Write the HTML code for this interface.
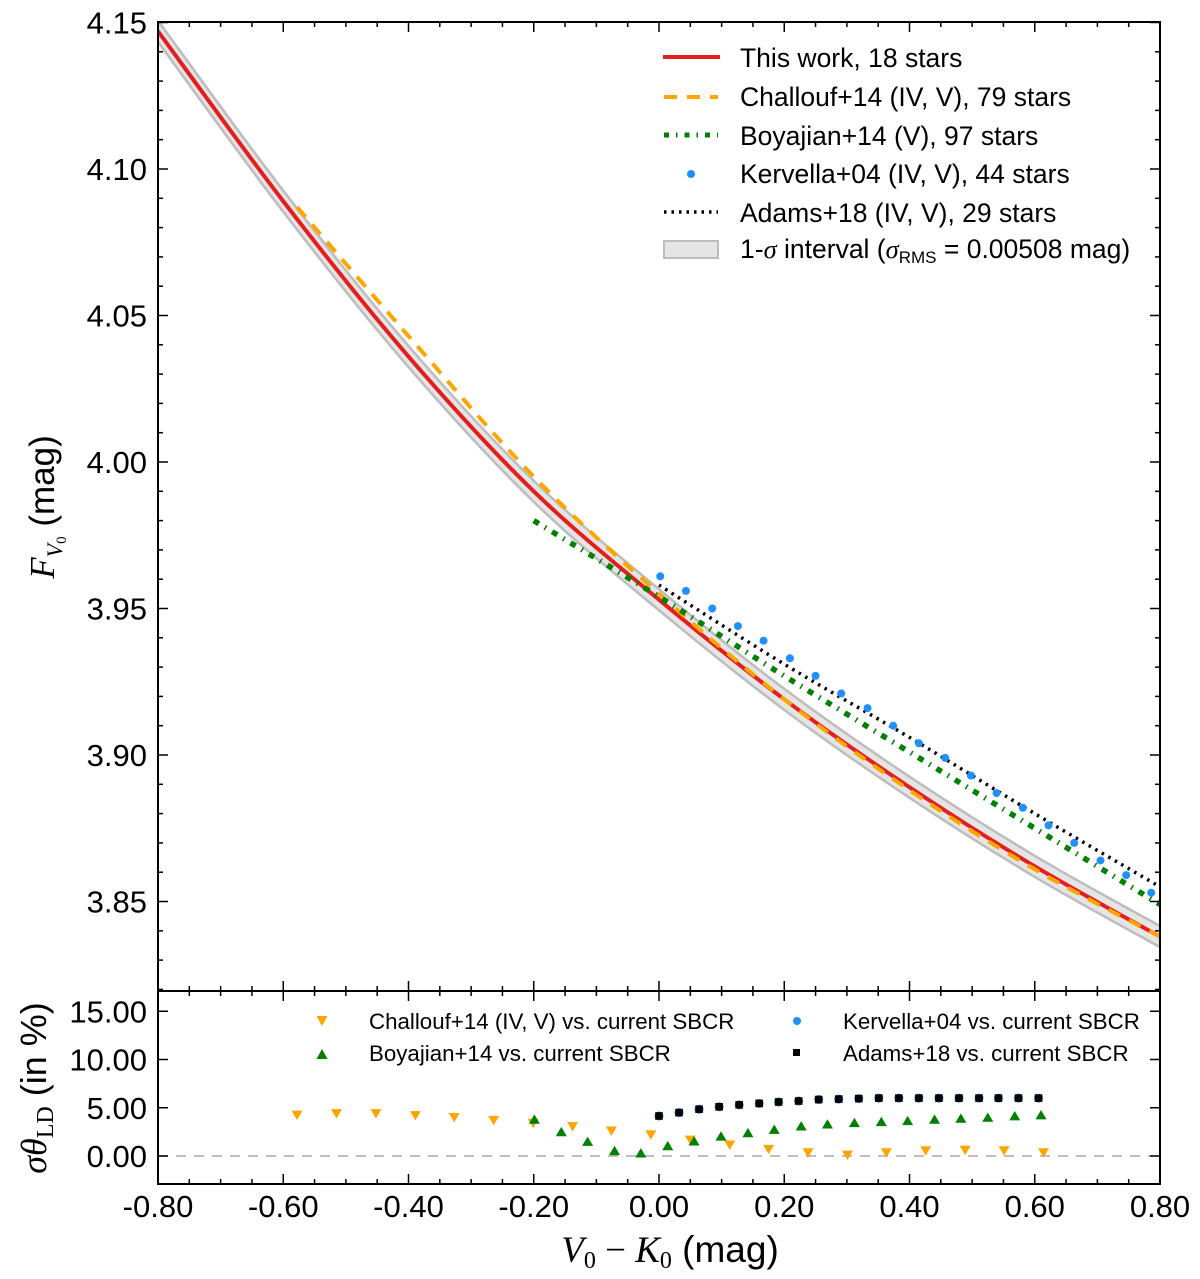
<!DOCTYPE html>
<html><head><meta charset="utf-8"><style>
html,body{margin:0;padding:0;background:#fff;}
svg{display:block;font-family:"Liberation Sans",sans-serif;}
</style></head><body>
<svg id="chart" width="1200" height="1279" viewBox="0 0 1200 1279" xmlns="http://www.w3.org/2000/svg"></svg>
<script>
// ---------- data ----------
const curveX = [-0.8,-0.6,-0.4,-0.2,0,0.2,0.4,0.6,0.8];
const thisWork = [4.147,4.089,4.036,3.990,3.953,3.919,3.889,3.862,3.838];
const bandHalf = 0.0036;
const challoufX = [-0.578,-0.4,-0.2,0,0.2,0.4,0.6,0.8];
const challouf = [4.087,4.043,3.995,3.955,3.919,3.888,3.861,3.838];
const boyajianX = [-0.2,0,0.2,0.4,0.6,0.8];
const boyajian = [3.980,3.954,3.927,3.901,3.875,3.849];
const adamsX = [0,0.2,0.4,0.6,0.8];
const adams = [3.958,3.931,3.906,3.880,3.855];
const kervellaX = [0.002,0.043,0.085,0.126,0.167,0.209,0.250,0.291,0.333,0.374,0.415,0.457,0.498,0.539,0.581,0.622,0.663,0.705,0.746,0.786];
const kervella = [3.961,3.956,3.950,3.944,3.939,3.933,3.927,3.921,3.916,3.910,3.904,3.899,3.893,3.887,3.882,3.876,3.870,3.864,3.859,3.853];
// residual panel
const resChX = [-0.578,-0.515,-0.452,-0.389,-0.327,-0.264,-0.201,-0.138,-0.076,-0.013,0.050,0.113,0.175,0.238,0.301,0.363,0.426,0.489,0.551,0.614];
const resCh = [4.25,4.4,4.4,4.2,4.0,3.7,3.4,3.05,2.6,2.2,1.65,1.15,0.7,0.35,0.1,0.35,0.55,0.6,0.55,0.35];
const resBoX = [-0.199,-0.156,-0.114,-0.071,-0.029,0.014,0.056,0.099,0.142,0.184,0.227,0.269,0.312,0.355,0.397,0.440,0.482,0.525,0.568,0.610];
const resBo = [3.8,2.5,1.5,0.55,0.3,1.05,1.55,2.05,2.4,2.75,3.1,3.3,3.45,3.55,3.65,3.8,3.9,4.0,4.15,4.25];
const resAdX = [0.000,0.032,0.064,0.096,0.128,0.160,0.191,0.223,0.255,0.287,0.319,0.351,0.383,0.415,0.447,0.479,0.511,0.542,0.574,0.606];
const resAd = [4.15,4.5,4.85,5.1,5.3,5.45,5.6,5.7,5.85,5.9,5.95,6.0,6.0,6.0,6.0,6.0,6.0,6.0,6.0,6.0];
const xTicks = [-0.8,-0.6,-0.4,-0.2,0,0.2,0.4,0.6,0.8];
const xTickLabels = ["-0.80","-0.60","-0.40","-0.20","0.00","0.20","0.40","0.60","0.80"];
const yTicks = [3.85,3.90,3.95,4.00,4.05,4.10,4.15];
const yTickLabels = ["3.85","3.90","3.95","4.00","4.05","4.10","4.15"];
const rTicks = [0,5,10,15];
const rTickLabels = ["0.00","5.00","10.00","15.00"];

// ---------- scales ----------
const L=158,R=1160,T=22,MB=991,B=1184;
const X = v => L + (v+0.8)/1.6*(R-L);
const Y = v => 462 - (v-4.0)*2930;
const RY = v => 1156 - v*9.65;
const NS="http://www.w3.org/2000/svg";
const svg=document.getElementById('chart');
function el(tag,attrs,parent){const e=document.createElementNS(NS,tag);for(const k in attrs)e.setAttribute(k,attrs[k]);(parent||svg).appendChild(e);return e;}
function smooth(xs,ys,fx,fy){
  const p=xs.map((x,i)=>[fx(x),fy(ys[i])]);
  let d=`M${p[0][0]},${p[0][1]}`;
  for(let i=0;i<p.length-1;i++){
    const p0=p[i-1]||p[i],p1=p[i],p2=p[i+1],p3=p[i+2]||p2;
    const c1=[p1[0]+(p2[0]-p0[0])/6,p1[1]+(p2[1]-p0[1])/6];
    const c2=[p2[0]-(p3[0]-p1[0])/6,p2[1]-(p3[1]-p1[1])/6];
    d+=` C${c1[0]},${c1[1]} ${c2[0]},${c2[1]} ${p2[0]},${p2[1]}`;
  }
  return d;
}
const defs=el('defs',{});
const cp=el('clipPath',{id:'cm'},defs);el('rect',{x:L,y:T,width:R-L,height:MB-T},cp);
const cr=el('clipPath',{id:'cr'},defs);el('rect',{x:L,y:MB,width:R-L,height:B-MB},cr);
const gm=el('g',{'clip-path':'url(#cm)'});



const up=thisWork.map(v=>v+bandHalf), lo=thisWork.map(v=>v-bandHalf);
const dUp=smooth(curveX,up,X,Y);
const loRev=smooth(curveX.slice().reverse(),lo.slice().reverse(),X,Y).replace('M','L');
const band=el('path',{d:dUp+' '+loRev+' Z',fill:'#e5e5e5',stroke:'#bdbdbd','stroke-width':2.5},gm);



const red=el('path',{d:smooth(curveX,thisWork,X,Y),fill:'none',stroke:'#e41e1e','stroke-width':4},gm);


const ch=el('path',{d:smooth(challoufX,challouf,X,Y),fill:'none',stroke:'#ffa500','stroke-width':4,'stroke-dasharray':'13 10'},gm);


const bo=el('path',{d:smooth(boyajianX,boyajian,X,Y),fill:'none',stroke:'#008000','stroke-width':5.5,'stroke-dasharray':'6 7 1.5 7'},gm);


const ad=el('path',{d:smooth(adamsX,adams,X,Y),fill:'none',stroke:'#000','stroke-width':3.5,'stroke-dasharray':'2.5 5'},gm);


kervellaX.forEach((x,i)=>{
  const c=el('circle',{cx:X(x),cy:Y(kervella[i]),r:4,fill:'#1e90ff'},gm);
  
  
});

const gr=el('g',{'clip-path':'url(#cr)'});


const zl=el('line',{x1:L,x2:R,y1:RY(0),y2:RY(0),stroke:'#aaa','stroke-width':1.5,'stroke-dasharray':'10 8'},gr);


function triDown(cx,cy,c,p){const s=5.5;return el('path',{d:`M${cx-s},${cy-s*0.8} L${cx+s},${cy-s*0.8} L${cx},${cy+s*0.9} Z`,fill:c},p);}
function triUp(cx,cy,c,p){const s=5.5;return el('path',{d:`M${cx-s},${cy+s*0.8} L${cx+s},${cy+s*0.8} L${cx},${cy-s*0.9} Z`,fill:c},p);}
resChX.forEach((x,i)=>{const t=triDown(X(x),RY(resCh[i]),'#ffa500',gr);
  
  });
resBoX.forEach((x,i)=>{const t=triUp(X(x),RY(resBo[i]),'#008000',gr);
  
  });
resAdX.forEach((x,i)=>{
  const c=el('circle',{cx:X(x),cy:RY(resAd[i]),r:4.5,fill:'#1e90ff'},gr);
  
  
  const s=el('rect',{x:X(x)-3.8,y:RY(resAd[i])-3.8,width:7.6,height:7.6,fill:'#000'},gr);
  
  });

const f1=el('rect',{x:L,y:T,width:R-L,height:MB-T,fill:'none',stroke:'#000','stroke-width':2});


const f2=el('rect',{x:L,y:MB,width:R-L,height:B-MB,fill:'none',stroke:'#000','stroke-width':2});



for(let v=-0.8;v<=0.8001;v+=0.05){
  const major=Math.abs(Math.round(v*100)%20)<1e-6;
  const len=major?10:5,x=X(v);
  [[T,1],[MB,-1],[MB,1],[B,-1]].forEach(([y0,dir])=>el('line',{x1:x,x2:x,y1:y0,y2:y0+dir*len,stroke:'#000','stroke-width':1.5}));
}
xTicks.forEach((v,i)=>{const t=el('text',{x:X(v),y:1217,'font-size':31,'text-anchor':'middle'});t.textContent=xTickLabels[i];
  
  });
for(let v=3.82;v<=4.1501;v+=0.01){
  const major=Math.abs(Math.round(v*100)%5)<1e-6;const len=major?10:5,y=Y(v);
  el('line',{x1:L,x2:L+len,y1:y,y2:y,stroke:'#000','stroke-width':1.5});
  el('line',{x1:R,x2:R-len,y1:y,y2:y,stroke:'#000','stroke-width':1.5});
}
yTicks.forEach((v,i)=>{const t=el('text',{x:147,y:Y(v)+11,'font-size':31,'text-anchor':'end'});t.textContent=yTickLabels[i];
  
  });
rTicks.forEach((v,i)=>{const y=RY(v);
  el('line',{x1:L,x2:L+10,y1:y,y2:y,stroke:'#000','stroke-width':1.5});
  el('line',{x1:R,x2:R-10,y1:y,y2:y,stroke:'#000','stroke-width':1.5});
  const t=el('text',{x:147,y:y+11,'font-size':31,'text-anchor':'end'});t.textContent=rTickLabels[i];
  
  });
</script>
<svg style="position:absolute;left:0;top:0" width="1200" height="1279" font-family="Liberation Sans, sans-serif">
  <text transform="translate(54,507) rotate(-90)" text-anchor="middle" font-size="35"><tspan font-family="Liberation Serif, serif" font-style="italic">F</tspan><tspan font-family="Liberation Serif, serif" font-style="italic" font-size="22" dy="8">V</tspan><tspan font-family="Liberation Serif, serif" font-size="15" dy="4">0</tspan><tspan dy="-12"> (mag)</tspan></text>
  <text transform="translate(46,1088) rotate(-90)" text-anchor="middle" font-size="36"><tspan font-family="Liberation Serif, serif" font-style="italic">σθ</tspan><tspan font-family="Liberation Serif, serif" font-size="24" dy="7">LD</tspan><tspan dy="-7"> (in %)</tspan></text>
  <text x="670" y="1262" text-anchor="middle" font-size="37" font-family="Liberation Serif, serif"><tspan font-style="italic">V</tspan><tspan font-size="24" dy="6">0</tspan><tspan dy="-6"> − </tspan><tspan font-style="italic">K</tspan><tspan font-size="24" dy="6">0</tspan><tspan dy="-6" font-family="Liberation Sans, sans-serif"> (mag)</tspan></text>
  <g font-size="26.5">
    <line x1="663" x2="720" y1="57" y2="57" stroke="#e41e1e" stroke-width="4"/>
    <text x="740" y="67">This work, 18 stars</text>
    <line x1="664" x2="718" y1="97" y2="97" stroke="#ffa500" stroke-width="4" stroke-dasharray="13 10"/>
    <text x="740" y="106">Challouf+14 (IV, V), 79 stars</text>
    <line x1="664" x2="718" y1="135" y2="135" stroke="#008000" stroke-width="5" stroke-dasharray="5 7 1.5 7"/>
    <text x="740" y="145">Boyajian+14 (V), 97 stars</text>
    <circle cx="691" cy="174" r="4" fill="#1e90ff"/>
    <text x="740" y="183">Kervella+04 (IV, V), 44 stars</text>
    <line x1="664" x2="718" y1="212" y2="212" stroke="#000" stroke-width="3.5" stroke-dasharray="2.5 5"/>
    <text x="740" y="222">Adams+18 (IV, V), 29 stars</text>
    <rect x="664" y="241" width="54" height="17" fill="#e5e5e5" stroke="#bdbdbd" stroke-width="2"/>
    <text x="740" y="258">1-<tspan font-family="Liberation Serif, serif" font-style="italic">σ</tspan> interval (<tspan font-family="Liberation Serif, serif" font-style="italic">σ</tspan><tspan font-size="17" dy="5">RMS</tspan><tspan dy="-5"> = 0.00508 mag)</tspan></text>
  </g>
  <g font-size="22.3">
    <path d="M316.5,1016 L327.5,1016 L322,1026 Z" fill="#ffa500"/>
    <text x="369" y="1029">Challouf+14 (IV, V) vs. current SBCR</text>
    <path d="M316.5,1059 L327.5,1059 L322,1049 Z" fill="#008000"/>
    <text x="369" y="1061">Boyajian+14 vs. current SBCR</text>
    <circle cx="797" cy="1021" r="4" fill="#1e90ff"/>
    <text x="843" y="1029">Kervella+04 vs. current SBCR</text>
    <rect x="793" y="1049" width="7" height="7" fill="#000"/>
    <text x="843" y="1061">Adams+18 vs. current SBCR</text>
  </g>
</svg>
</body></html>
